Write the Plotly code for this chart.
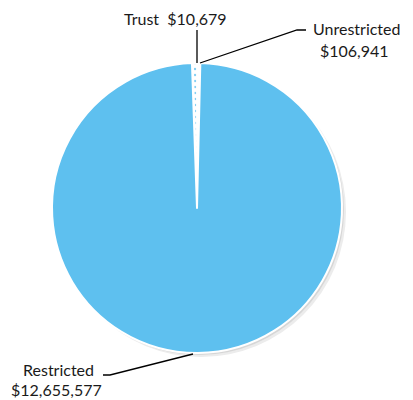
import plotly.graph_objects as go

# Fund balances by restriction type
categories = ["Trust", "Unrestricted", "Restricted"]
amounts = [10679, 106941, 12655577]

W, H = 413, 400
BLUE = "#0A9DE6"

# pie placement in pixels
cx, cy, r = 197, 208, 145

def px(x):
    return x / W

def py(y):
    return 1 - y / H

fig = go.Figure()

fig.add_trace(go.Pie(
    labels=categories,
    values=amounts,
    sort=False,
    direction="clockwise",
    rotation=-2,
    textinfo="none",
    hoverinfo="label+value",
    showlegend=False,
    domain=dict(x=[px(cx - r), px(cx + r)], y=[py(cy + r), py(cy - r)]),
    marker=dict(
        colors=["white", "white", "white"],
        line=dict(color="white", width=2),
        pattern=dict(
            shape=[".", ".", "."],
            fgcolor=[BLUE, BLUE, BLUE],
            bgcolor=["white", "white", "#8ad3f4"],
            size=[6, 6, 2],
            solidity=[0.12, 0.12, 0.7],
            fillmode="overlay",
        ),
    ),
))

fmt = lambda v: "${:,}".format(v)

shapes = []
# soft shadow under the pie
for off, col in [(4, "#ececec"), (2, "#d6d6d6")]:
    shapes.append(dict(
        type="circle", xref="paper", yref="paper", layer="below",
        x0=px(cx - r + off), x1=px(cx + r + off),
        y0=py(cy + r + off), y1=py(cy - r + off),
        fillcolor=col, line=dict(width=0),
    ))

def path(points):
    d = "M " + " L ".join(f"{px(x)},{py(y)}" for x, y in points)
    return dict(type="path", xref="paper", yref="paper", path=d,
                line=dict(color="black", width=1.3))

shapes.append(path([(197, 63), (197, 30)]))
shapes.append(path([(200, 63), (297, 30), (306, 30)]))
shapes.append(path([(193, 354), (110, 375), (103, 375)]))

font = dict(family="Lato, Carlito, sans-serif", size=16, color="#1a1a1a")
annotations = [
    dict(x=px(175), y=py(19), text=f"{categories[0]}  {fmt(amounts[0])}",
         xanchor="center", yanchor="middle"),
    dict(x=px(356), y=py(28), text=categories[1],
         xanchor="center", yanchor="middle"),
    dict(x=px(354), y=py(50), text=fmt(amounts[1]),
         xanchor="center", yanchor="middle"),
    dict(x=px(58), y=py(369), text=categories[2],
         xanchor="center", yanchor="middle"),
    dict(x=px(56), y=py(389), text=fmt(amounts[2]),
         xanchor="center", yanchor="middle"),
]
for a in annotations:
    a.update(xref="paper", yref="paper", showarrow=False, font=font)

fig.update_layout(
    width=W, height=H,
    margin=dict(l=0, r=0, t=0, b=0),
    paper_bgcolor="white",
    plot_bgcolor="white",
    shapes=shapes,
    annotations=annotations,
)

fig.write_html("out.html")
